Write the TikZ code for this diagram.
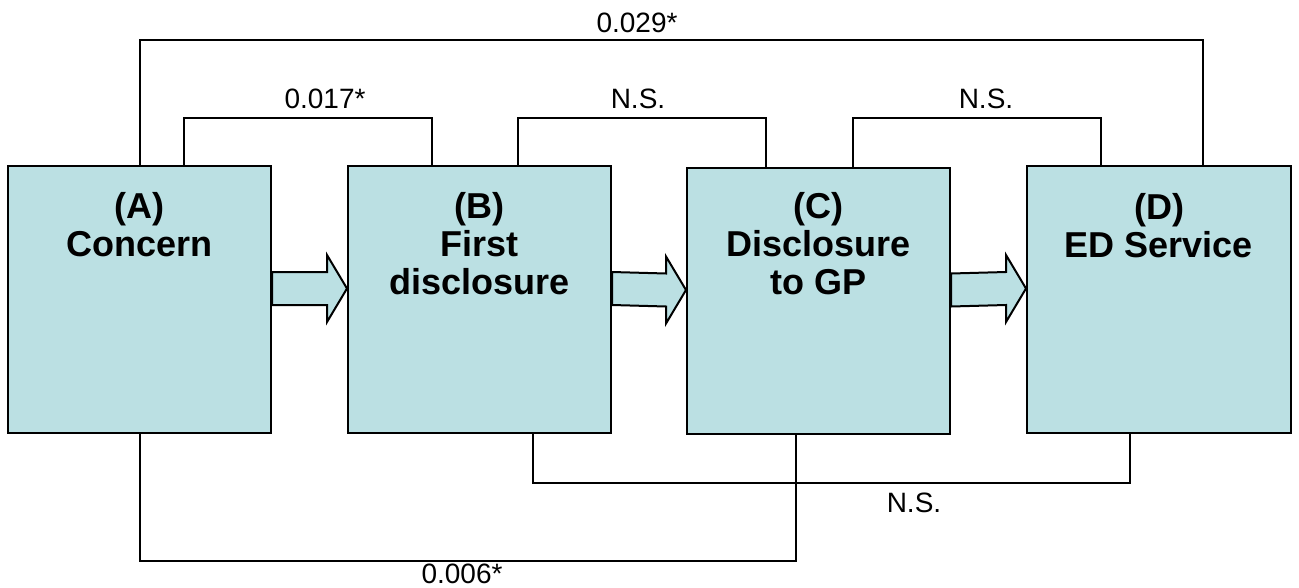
\documentclass[tikz,border=0pt]{standalone}
\usepackage{fontspec}
\setmainfont{Liberation Sans}
\usetikzlibrary{calc}
\definecolor{boxfill}{HTML}{BBE0E3}
\tikzset{
  stagebox/.style={draw=black, line width=2pt, fill=boxfill, minimum width=263pt, minimum height=267pt, inner sep=0pt},
  stagetext/.style={font=\fontsize{36}{38}\selectfont\bfseries, align=center, inner sep=0pt, anchor=north},
  conn/.style={draw=black, line width=2pt},
  pval/.style={font=\fontsize{28}{30}\selectfont, inner sep=0pt, anchor=base},
  blockarrow/.style={draw=black, line width=2pt, fill=boxfill, line join=miter}
}
\newcommand{\stagearrow}[2]{%
  \filldraw[blockarrow] ($(#1.east)+(0,-27.5)$) -- ($(#2.west)+(-20,-27.5)$) -- ($(#2.west)+(-20,-44.5)$) -- ($(#2.west)+(0,-11)$) -- ($(#2.west)+(-20,22.5)$) -- ($(#2.west)+(-20,5.5)$) -- ($(#1.east)+(0,5.5)$) -- cycle;}
\begin{document}
\begin{tikzpicture}[x=1pt,y=-1pt]
\useasboundingbox (0,0) rectangle (1299,587);
\node[stagebox] (A) at (139.5,299.5) {};
\node[stagebox] (B) at (479.5,299.5) {};
\node[stagebox, minimum height=266pt] (C) at (818.5,301) {};
\node[stagebox, minimum width=264pt] (D) at (1159,299.5) {};
% connectors
\draw[conn] (A.north) -- ++(0,-125) -| ([xshift=44pt]D.north);
\draw[conn] ([xshift=44pt]A.north) -- ++(0,-47) -| ([xshift=-48pt]B.north);
\draw[conn] ([xshift=38.5pt]B.north) -- ++(0,-47) -| ([xshift=-52.5pt]C.north);
\draw[conn] ([xshift=34.5pt]C.north) -- ++(0,-49) -| ([xshift=-58pt]D.north);
\draw[conn] ([xshift=53.5pt]B.south) -- ++(0,49) -| ([xshift=-29pt]D.south);
\draw[conn] (A.south) -- ++(0,127) -| ([xshift=-22.5pt]C.south);
% block arrows
\stagearrow{A}{B}
\stagearrow{B}{C}
\stagearrow{C}{D}
% box texts
\node[stagetext] (At) at (139.5,192) {(A)\\Concern};
\node[stagetext] (Bt) at (479.5,192) {(B)\\First\\disclosure};
\node[stagetext] (Ct) at (818.5,192) {(C)\\Disclosure\\to GP};
\node[stagetext] (Dt) at (1159,193) {(D)\\ED Service};
% p-values
\node[pval] (pAD) at (637,32) {0.029*};
\node[pval] (pAB) at (325,108) {0.017*};
\node[pval] (pBC) at (638,108) {N.S.};
\node[pval] (pCD) at (986,108) {N.S.};
\node[pval] (pBD) at (914,512) {N.S.};
\node[pval] (pAC) at (462,583) {0.006*};
\end{tikzpicture}
\end{document}
